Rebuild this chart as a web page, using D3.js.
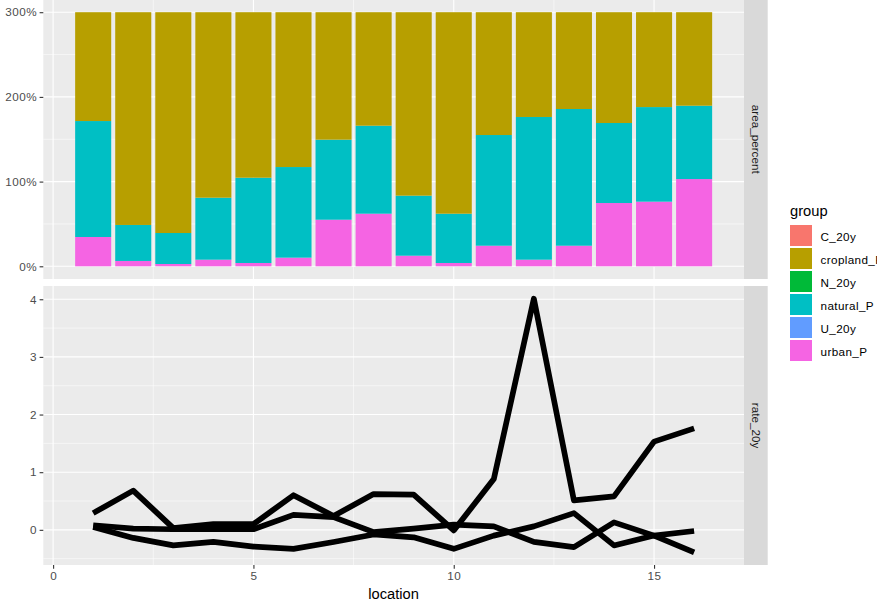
<!DOCTYPE html>
<html>
<head>
<meta charset="utf-8">
<script src="https://cdn.jsdelivr.net/npm/d3@7"></script>
<style>
  body { margin: 0; background: #fff; }
  text { font-family: "Liberation Sans", Arial, sans-serif; }
</style>
</head>
<body>
<svg id="chart" width="877" height="599"></svg>
<script>
// data
const locations = [1, 2, 3, 4, 5, 6, 7, 8, 9, 10, 11, 12, 13, 14, 15, 16];
const groups = ["C_20y", "cropland_P", "N_20y", "natural_P", "U_20y", "urban_P"];
const groupColors = ["#F8766D", "#B79F00", "#00BA38", "#00BFC4", "#619CFF", "#F564E3"];

// area_percent facet (stacked bars, %)
const urbanP    = [34.6, 6.3, 2.7, 7.8, 3.9, 10.2, 55.0, 62.1, 12.5, 3.9, 24.3, 7.8, 24.3, 74.7, 76.3, 103.0];
const naturalP  = [136.9, 42.5, 36.6, 73.2, 100.7, 107.0, 94.5, 103.9, 70.9, 58.2, 130.7, 168.5, 161.4, 94.5, 111.7, 86.6];
const croplandP = [128.5, 251.2, 260.7, 219.0, 195.4, 182.8, 150.5, 134.0, 216.6, 237.9, 145.0, 123.7, 114.3, 130.8, 112.0, 110.4];

// rate_20y facet (lines)
const rateC = [0.08, 0.02, 0.01, 0.01, 0.01, 0.26, 0.22, -0.04, 0.02, 0.09, 0.06, -0.21, -0.30, 0.13, -0.10, -0.39];
const rateN = [0.05, -0.14, -0.27, -0.21, -0.29, -0.33, -0.21, -0.08, -0.13, -0.33, -0.10, 0.06, 0.29, -0.27, -0.10, -0.02];
const rateU = [0.29, 0.68, 0.03, 0.10, 0.10, 0.60, 0.24, 0.62, 0.61, -0.01, 0.88, 4.01, 0.51, 0.58, 1.53, 1.76];

const xTicks = [0, 5, 10, 15];
const barTicks = [0, 100, 200, 300];
const rateTicks = [0, 1, 2, 3, 4];

const svg = d3.select("#chart");
const color = d3.scaleOrdinal(groups, groupColors);

const left = 43.3, right = 744;
const topPanel = [279, -0.5];
const botPanel = [565, 286];
const barWidth = 0.9;

// ggplot style 5% expansion
function expand(lo, hi) {
    var pad = (hi - lo) * 0.05;
    return [lo - pad, hi + pad];
}

const x = d3.scaleLinear()
    .domain(expand(d3.min(locations) - barWidth / 2, d3.max(locations) + barWidth / 2))
    .range([left, right]);

const yBar = d3.scaleLinear()
    .domain(expand(0, 300))
    .range(topPanel);

const allRates = rateC.concat(rateN, rateU);
const yRate = d3.scaleLinear()
    .domain(expand(d3.min(allRates), d3.max(allRates)))
    .range(botPanel);

function drawPanel(y, range, majors, minors) {
    const g = svg.append("g");
    g.append("rect")
        .attr("x", left).attr("y", range[1])
        .attr("width", right - left).attr("height", range[0] - range[1])
        .attr("fill", "#EBEBEB");

    const xMinor = [2.5, 7.5, 12.5];
    g.selectAll(".hmin").data(minors).enter().append("line")
        .attr("x1", left).attr("x2", right)
        .attr("y1", d => y(d)).attr("y2", d => y(d))
        .attr("stroke", "#fff").attr("stroke-width", 0.55);
    g.selectAll(".vmin").data(xMinor).enter().append("line")
        .attr("x1", d => x(d)).attr("x2", d => x(d))
        .attr("y1", range[0]).attr("y2", range[1])
        .attr("stroke", "#fff").attr("stroke-width", 0.55);
    g.selectAll(".hmaj").data(majors).enter().append("line")
        .attr("x1", left).attr("x2", right)
        .attr("y1", d => y(d)).attr("y2", d => y(d))
        .attr("stroke", "#fff").attr("stroke-width", 1.1);
    g.selectAll(".vmaj").data(xTicks).enter().append("line")
        .attr("x1", d => x(d)).attr("x2", d => x(d))
        .attr("y1", range[0]).attr("y2", range[1])
        .attr("stroke", "#fff").attr("stroke-width", 1.1);
    return g;
}

function yAxis(y, ticks, fmt) {
    const ax = svg.append("g")
        .attr("transform", `translate(${left},0)`)
        .call(d3.axisLeft(y).tickValues(ticks).tickFormat(fmt).tickSize(3.7).tickPadding(2.6));
    ax.select(".domain").remove();
    ax.selectAll("line").attr("stroke", "#333").attr("stroke-width", 1.1);
    ax.selectAll("text").attr("fill", "#4D4D4D")
        .style("font-size", "11.7px").style("letter-spacing", "0.45px");
}

function strip(range, label) {
    const mid = (range[0] + range[1]) / 2;
    svg.append("rect")
        .attr("x", right).attr("y", range[1])
        .attr("width", 23.7).attr("height", range[0] - range[1])
        .attr("fill", "#D9D9D9");
    svg.append("text")
        .attr("transform", `translate(${right + 7.5},${mid}) rotate(90)`)
        .attr("text-anchor", "middle")
        .attr("fill", "#1A1A1A")
        .style("font-size", "11.7px")
        .text(label);
}

// top facet: stacked bars
drawPanel(yBar, topPanel, barTicks, [50, 150, 250]);

const barRows = locations.map((loc, i) => ({
    location: loc, cropland_P: croplandP[i], natural_P: naturalP[i], urban_P: urbanP[i]
}));
const stack = d3.stack().keys(["urban_P", "natural_P", "cropland_P"]);

svg.append("g")
  .selectAll("g")
  .data(stack(barRows))
  .enter().append("g")
    .attr("fill", d => color(d.key))
  .selectAll("rect")
  .data(d => d)
  .enter().append("rect")
    .attr("x", d => x(d.data.location - barWidth / 2))
    .attr("width", x(barWidth) - x(0))
    .attr("y", d => yBar(d[1]))
    .attr("height", d => yBar(d[0]) - yBar(d[1]));

yAxis(yBar, barTicks, d => d + "%");
strip(topPanel, "area_percent");

// bottom facet: lines
drawPanel(yRate, botPanel, rateTicks, [-0.5, 0.5, 1.5, 2.5, 3.5]);

const line = d3.line()
    .x((d, i) => x(locations[i]))
    .y(d => yRate(d));

svg.append("g")
  .selectAll("path")
  .data([rateC, rateN, rateU])
  .enter().append("path")
    .attr("d", line)
    .attr("fill", "none")
    .attr("stroke", "#000")
    .attr("stroke-width", 5.7)
    .attr("stroke-linejoin", "round");

yAxis(yRate, rateTicks, d3.format("d"));
strip(botPanel, "rate_20y");

// x axis
const xa = svg.append("g")
    .attr("transform", `translate(0,${botPanel[0]})`)
    .call(d3.axisBottom(x).tickValues(xTicks).tickSize(3.7).tickPadding(3.2));
xa.select(".domain").remove();
xa.selectAll("line").attr("stroke", "#333").attr("stroke-width", 1.1);
xa.selectAll("text").attr("fill", "#4D4D4D")
    .style("font-size", "11.7px").style("letter-spacing", "0.45px");

svg.append("text")
    .attr("x", (left + right) / 2)
    .attr("y", 598.5)
    .attr("text-anchor", "middle")
    .style("font-size", "14.7px")
    .text("location");

// legend
const legend = svg.append("g").attr("transform", "translate(790,0)");
legend.append("text")
    .attr("x", 0).attr("y", 215.5)
    .style("font-size", "14.7px")
    .text("group");

const key = legend.selectAll(".key")
    .data(groups)
    .enter().append("g")
    .attr("transform", (d, i) => `translate(0,${225 + i * 23})`);
key.append("rect")
    .attr("width", 22).attr("height", 21)
    .attr("fill", d => color(d));
key.append("text")
    .attr("x", 30.5).attr("y", 15.5)
    .style("font-size", "11.7px")
    .style("letter-spacing", "0.38px")
    .text(d => d);
</script>
</body>
</html>
